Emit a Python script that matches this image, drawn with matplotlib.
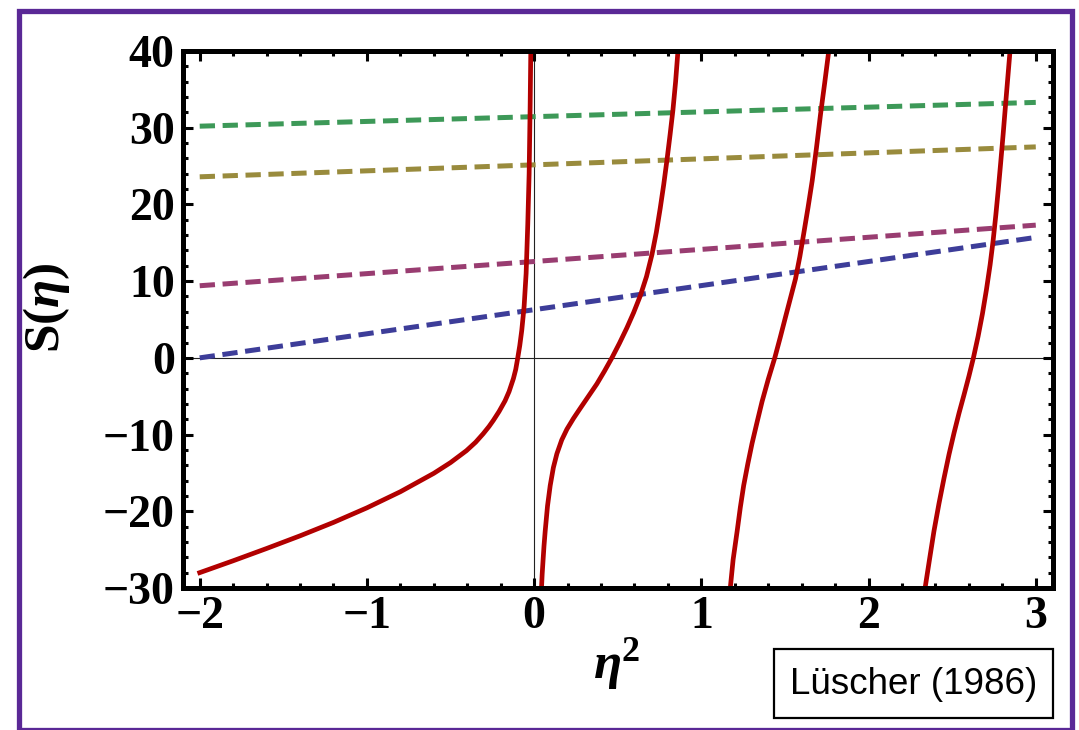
import matplotlib
matplotlib.use("Agg")
import matplotlib.pyplot as plt
from matplotlib.patches import Rectangle
from matplotlib.ticker import MultipleLocator

# Lüscher zeta function S(eta), one list pair per branch between poles
branch1_x = [-2.00, -1.80, -1.60, -1.40, -1.20, -1.00, -0.80, -0.60, -0.50, -0.405,
             -0.35, -0.305, -0.27, -0.244, -0.21, -0.174, -0.15, -0.124, -0.11, -0.098,
             -0.086, -0.074, -0.060, -0.048, -0.038, -0.030, -0.024, -0.020]
branch1_y = [-28.0, -26.45, -24.85, -23.2, -21.45, -19.55, -17.45, -15.05, -13.65, -12.1,
             -11.0, -9.9, -8.95, -8.15, -7.0, -5.6, -4.4, -2.7, -1.5, 0.0,
             1.6, 3.6, 6.7, 11.0, 17.5, 24.0, 32.7, 40.0]

branch2_x = [0.044, 0.048, 0.053, 0.059, 0.066, 0.080, 0.096, 0.115, 0.136, 0.165,
             0.196, 0.235, 0.275, 0.325, 0.375, 0.420, 0.465, 0.510, 0.555, 0.595,
             0.635, 0.672, 0.705, 0.731, 0.754, 0.775, 0.795, 0.813, 0.830, 0.846, 0.860]
branch2_y = [-30.0, -28.2, -26.5, -24.5, -22.6, -19.3, -16.65, -14.3, -12.5, -10.7,
             -9.3, -7.9, -6.6, -5.0, -3.4, -1.75, 0.0, 1.9, 3.93, 5.9,
             8.1, 10.6, 13.5, 16.4, 19.5, 22.6, 25.9, 29.1, 32.3, 36.0, 40.0]

branch3_x = [1.173, 1.190, 1.214, 1.233, 1.253, 1.278, 1.303, 1.333, 1.363, 1.400,
             1.439, 1.471, 1.503, 1.533, 1.563, 1.589, 1.613, 1.638, 1.663, 1.688,
             1.713, 1.738, 1.762]
branch3_y = [-30.0, -26.3, -22.6, -19.5, -16.65, -13.8, -11.17, -8.4, -5.7, -2.8,
             0.0, 2.6, 5.3, 7.8, 10.3, 13.2, 16.3, 19.6, 23.1, 27.3,
             31.8, 35.9, 40.0]

branch4_x = [2.338, 2.365, 2.391, 2.421, 2.451, 2.481, 2.511, 2.541, 2.571, 2.600,
             2.627, 2.655, 2.681, 2.705, 2.727, 2.745, 2.761, 2.776, 2.790, 2.805,
             2.820, 2.833, 2.846]
branch4_y = [-30.0, -26.2, -22.6, -19.0, -15.7, -12.6, -9.8, -7.2, -4.8, -2.4,
             0.0, 2.8, 5.75, 8.9, 12.15, 15.3, 18.6, 22.0, 25.4, 29.2,
             33.2, 36.6, 40.0]

# straight dashed lines: values at eta^2 = -2 and eta^2 = 3
line_x = [-2.0, 3.0]
line_blue = [0.0, 15.7]
line_magenta = [9.4, 17.3]
line_olive = [23.6, 27.5]
line_green = [30.2, 33.3]

xticks = [-2, -1, 0, 1, 2, 3]
yticks = [-30, -20, -10, 0, 10, 20, 30, 40]

W, H = 1079, 730
plt.rcParams["lines.scale_dashes"] = False
plt.rcParams["mathtext.fontset"] = "custom"
plt.rcParams["mathtext.rm"] = "Liberation Serif:bold"
plt.rcParams["mathtext.bf"] = "Liberation Serif:bold"
plt.rcParams["mathtext.it"] = "Liberation Serif:italic:bold"
plt.rcParams["mathtext.bfit"] = "Liberation Serif:italic:bold"

fig = plt.figure(figsize=(W / 100, H / 100), dpi=100)
fig.patch.set_facecolor("white")

ax_l, ax_r, ax_t, ax_b = 183, 1052.5, 51, 588
ax = fig.add_axes([ax_l / W, 1 - ax_b / H, (ax_r - ax_l) / W, (ax_b - ax_t) / H])
ax.set_xlim(-2.1, 3.1)
ax.set_ylim(-30, 40)

# coordinate axes through the origin
ax.axhline(0, color="#222222", lw=0.8, zorder=1)
ax.axvline(0, color="#222222", lw=0.8, zorder=1)

dash = (11, 5.5)
colors = {"blue": "#3d3d99", "magenta": "#993d71", "olive": "#998b3d", "green": "#3d9958"}
for ys, c in [(line_blue, colors["blue"]), (line_magenta, colors["magenta"]),
              (line_olive, colors["olive"]), (line_green, colors["green"])]:
    ln, = ax.plot(line_x, ys, color=c, lw=3.6, zorder=2)
    ln.set_dashes(dash)
    ln.set_dash_capstyle("butt")

red = "#b20000"
for bx, by in [(branch1_x, branch1_y), (branch2_x, branch2_y),
               (branch3_x, branch3_y), (branch4_x, branch4_y)]:
    ax.plot(bx, by, color=red, lw=3.4, zorder=3, solid_joinstyle="round")

for s in ax.spines.values():
    s.set_linewidth(3.6)
    s.set_color("black")
    s.set_zorder(5)

ax.set_xticks(xticks)
ax.set_yticks(yticks)
ax.xaxis.set_minor_locator(MultipleLocator(0.2))
ax.yaxis.set_minor_locator(MultipleLocator(2))
ax.tick_params(which="both", direction="in", top=True, right=True, width=2.2, color="black")
ax.tick_params(which="major", length=7.5)
ax.tick_params(which="minor", length=3.8)
ax.tick_params(axis="x", which="major", pad=6)
ax.tick_params(axis="y", which="major", pad=6)
for lab in ax.get_xticklabels() + ax.get_yticklabels():
    lab.set_fontfamily("Liberation Serif")
    lab.set_fontweight("bold")
    lab.set_fontsize(33)

# axis titles
fig.text(46 / W, 1 - 308 / H, r"$\mathbf{S(}\mathbfit{\eta}\mathbf{)}$", rotation=90,
         ha="center", va="center", fontsize=37)
fig.text(617 / W, 1 - 664 / H, r"$\mathbfit{\eta}^{\mathbf{2}}$",
         ha="center", va="center", fontsize=37)

# citation box
fig.patches.append(Rectangle((774 / W, 1 - 718 / H), (1053 - 774) / W, (718 - 649) / H,
                             transform=fig.transFigure, fill=False, ec="black", lw=1.6))
fig.text(913.5 / W, 1 - 684 / H, "Lüscher (1986)", ha="center", va="center",
         fontsize=26.5, fontfamily="Liberation Sans")

# outer frame
fig.patches.append(Rectangle((18.5 / W, 1 - 729.5 / H), (1072 - 18.5) / W, (729.5 - 10.8) / H,
                             transform=fig.transFigure, fill=False, ec="#5a2896", lw=3.8))

fig.savefig("out.png", dpi=100)
